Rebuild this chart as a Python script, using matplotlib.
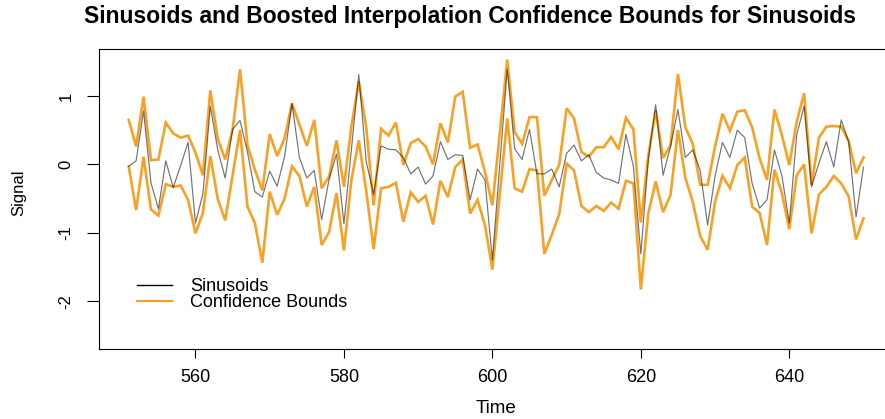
import numpy as np
import matplotlib
matplotlib.use("Agg")
import matplotlib.pyplot as plt
from matplotlib.lines import Line2D

plt.rcParams['font.family'] = ['Liberation Sans', 'DejaVu Sans']

# Time index of the series
time = np.arange(551, 651)

# Sinusoid signal
sinusoid = [
    -0.03, 0.05, 0.78, -0.27, -0.65, 0.05, -0.34, -0.02, 0.32, -0.86,
    -0.43, 0.85, 0.21, -0.20, 0.51, 0.64, 0.18, -0.40, -0.48, -0.10,
    -0.32, 0.11, 0.89, 0.10, -0.20, -0.09, -0.81, -0.22, 0.15, -0.87,
    0.21, 1.31, 0.04, -0.44, 0.27, 0.22, 0.21, 0.10, -0.14, -0.04,
    -0.29, -0.17, 0.33, 0.07, 0.14, 0.13, -0.52, -0.07, -0.23, -1.40,
    0.00, 1.39, 0.23, 0.07, 0.51, -0.14, -0.14, -0.07, -0.33, 0.16,
    0.28, 0.05, 0.14, -0.12, -0.20, -0.23, -0.28, 0.44, -0.03, -1.31,
    0.06, 0.87, -0.16, 0.26, 0.80, 0.10, 0.21, -0.09, -0.89, -0.17,
    0.32, 0.10, 0.50, 0.39, -0.28, -0.64, -0.52, 0.21, -0.16, -0.86,
    0.43, 0.85, -0.33, 0.02, 0.33, -0.04, 0.65, 0.33, -0.77, -0.04,
]

# Upper confidence bound
upper = [
    0.65, 0.26, 0.99, 0.06, 0.07, 0.61, 0.45, 0.39, 0.42, 0.17,
    -0.16, 1.08, 0.37, 0.07, 0.51, 1.39, 0.28, -0.08, -0.38, 0.44,
    0.12, 0.38, 0.89, 0.58, 0.27, 0.65, -0.35, -0.18, 0.35, -0.33,
    0.55, 1.21, 0.54, -0.60, 0.52, 0.42, 0.61, -0.01, 0.31, 0.37,
    0.26, 0.00, 0.60, 0.32, 0.99, 1.06, 0.24, 0.29, -0.11, -0.60,
    0.45, 1.53, 0.47, 0.30, 0.69, 0.69, -0.46, -0.23, -0.01, 0.82,
    0.67, 0.18, 0.11, 0.25, 0.25, 0.40, 0.22, 0.68, 0.51, -0.85,
    0.12, 0.79, 0.09, 0.28, 1.32, 0.54, 0.30, -0.30, -0.30, 0.26,
    0.74, 0.49, 0.77, 0.79, 0.54, 0.09, -0.23, 0.80, 0.43, -0.01,
    0.62, 1.04, -0.30, 0.39, 0.55, 0.56, 0.55, 0.34, -0.13, 0.10,
]

# Lower confidence bound
lower = [
    -0.03, -0.67, 0.11, -0.66, -0.75, -0.29, -0.33, -0.31, -0.52, -1.01,
    -0.71, 0.12, -0.51, -0.82, -0.16, 0.50, -0.62, -0.86, -1.44, -0.40,
    -0.74, -0.50, -0.03, -0.17, -0.62, -0.33, -1.18, -0.99, -0.42, -1.26,
    -0.23, 0.35, -0.39, -1.24, -0.35, -0.33, -0.27, -0.84, -0.41, -0.55,
    -0.46, -0.88, -0.24, -0.48, -0.04, 0.07, -0.72, -0.52, -0.89, -1.54,
    -0.43, 0.67, -0.35, -0.40, -0.07, -0.09, -1.31, -1.03, -0.73, 0.01,
    -0.09, -0.61, -0.70, -0.61, -0.68, -0.56, -0.65, -0.24, -0.28, -1.83,
    -0.72, -0.25, -0.70, -0.45, 0.50, -0.20, -0.55, -1.05, -1.25, -0.55,
    -0.17, -0.35, -0.01, 0.10, -0.62, -0.71, -1.18, -0.08, -0.42, -0.95,
    -0.16, 0.00, -1.01, -0.44, -0.33, -0.17, -0.28, -0.47, -1.10, -0.79,
]

x_ticks = [560, 580, 600, 620, 640]
y_ticks = [-2, -1, 0, 1]
y_tick_labels = ["-2", "-1", "0", "1"]

ORANGE = "#F9A126"

fig = plt.figure(figsize=(8.85, 4.19), dpi=100)
ax = fig.add_axes([0.1122, 0.1678, 0.8967, 0.7153])

ax.plot(time, upper, color=ORANGE, lw=1.9, solid_joinstyle="miter", zorder=2)
ax.plot(time, lower, color=ORANGE, lw=1.9, solid_joinstyle="miter", zorder=2)
ax.plot(time, sinusoid, color="black", alpha=0.55, lw=0.85, zorder=3)

ax.set_xlim(547.04, 653.96)
ax.set_ylim(-2.696, 1.686)

ax.set_xticks(x_ticks)
ax.set_xticklabels([str(v) for v in x_ticks], fontsize=13)
ax.set_yticks(y_ticks)
ax.set_yticklabels(y_tick_labels, fontsize=12, rotation=90, va="center")
ax.tick_params(axis="x", direction="out", length=6.5, width=0.8, pad=8)
ax.tick_params(axis="y", direction="out", length=8.5, width=0.8, pad=10)
for sp in ax.spines.values():
    sp.set_linewidth(0.8)

handles = [
    Line2D([], [], color="black", lw=1.0),
    Line2D([], [], color=ORANGE, lw=1.6),
]
ax.legend(handles, ["Sinusoids", "Confidence Bounds"], loc="upper left",
          bbox_to_anchor=(0.0475, 0.235), frameon=False, fontsize=13,
          handlelength=1.94, handletextpad=1.0, labelspacing=-0.05,
          borderpad=0.0, borderaxespad=0.0)

fig.text(470.5 / 885, 1 - 17 / 419,
         "Sinusoids and Boosted Interpolation Confidence Bounds for Sinusoids",
         ha="center", va="center", fontsize=16.5, fontweight="bold")
fig.text(496 / 885, 1 - 408 / 419, "Time", ha="center", va="center", fontsize=13.5)
fig.text(18.5 / 885, 1 - 193 / 419, "Signal", ha="center", va="center",
         fontsize=12, rotation=90)

fig.savefig("out.png", dpi=100)
